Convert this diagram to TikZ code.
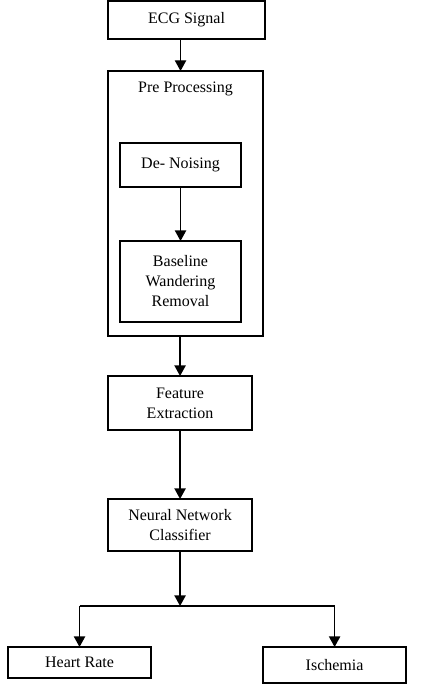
\documentclass[tikz,border=0pt]{standalone}
\usepackage{fontspec}
\setmainfont{Liberation Serif}
\usetikzlibrary{positioning,arrows.meta}
\begin{document}
\begin{tikzpicture}[font=\fontsize{12}{15}\selectfont,>={Triangle[width=8.5pt,length=8pt]},
  box/.style={rectangle,draw=black,line width=1pt,outer sep=0pt,align=center,inner sep=3pt},
  ar/.style={->,line width=1pt,black}]
\useasboundingbox (-135pt,15pt) rectangle (186pt,-501pt);
\node[box,minimum width=117.75pt,minimum height=28.5pt](ecg) at (4.9pt,0){ECG Signal};
\node[box,minimum width=116.25pt,minimum height=198.75pt,below=24pt of ecg,xshift=-0.75pt](pre){};
\node[below=5pt of pre.north](prelbl){Pre Processing};
\node[box,minimum width=90.75pt,minimum height=33pt,below=54pt of pre.north,xshift=-3.75pt](dn){De- Noising};
\node[box,minimum width=90.75pt,minimum height=60.75pt,below=40.5pt of dn](bw){Baseline\\Wandering\\Removal};
\node[box,minimum width=108pt,minimum height=40.5pt,below=30pt of pre,xshift=-4.1pt](fe){Feature\\Extraction};
\node[box,minimum width=108pt,minimum height=39pt,below=51.75pt of fe](nn){Neural Network\\Classifier};
\coordinate[below=41.25pt of nn](split);
\node[box,minimum width=107.25pt,minimum height=23.25pt,below=72pt of nn,xshift=-75.4pt](hr){Heart Rate};
\node[box,minimum width=107.25pt,minimum height=27pt,below=72pt of nn,xshift=115.9pt](isc){Ischemia};
\draw[ar](ecg.south -| dn)--(pre.north -| dn);
\draw[ar](dn)--(bw);
\draw[ar](pre.south -| fe)--(fe);
\draw[ar](fe)--(nn);
\draw[ar](nn)--(split);
\draw[line width=1pt](split -| hr)--(split -| isc);
\draw[ar](split -| hr)--(hr);
\draw[ar](split -| isc)--(isc);
\end{tikzpicture}
\end{document}
